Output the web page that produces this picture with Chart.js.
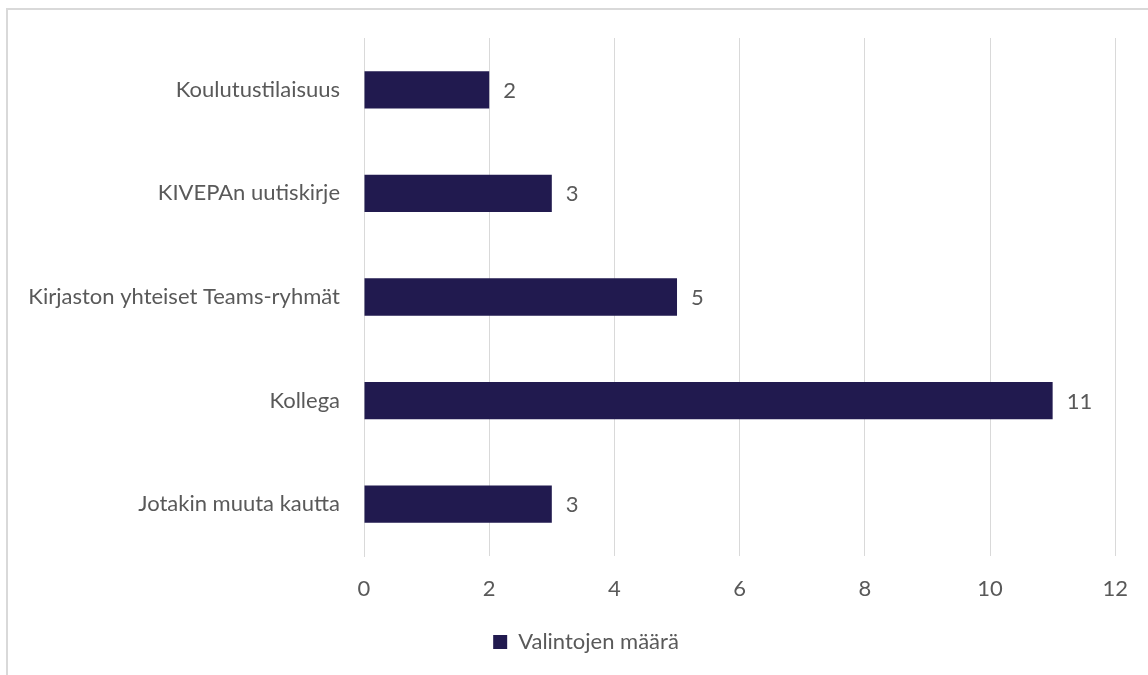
<!DOCTYPE html>
<html>
<head>
<meta charset="utf-8">
<script src="https://cdn.jsdelivr.net/npm/chart.js@4.4.1/dist/chart.umd.min.js"></script>
<style>
  html, body { margin: 0; padding: 0; background: #fff; overflow: hidden; }
  #frame { position: absolute; left: 6px; top: 8px; width: 1300px; height: 800px;
           border-left: 2px solid #d9d9d9; border-top: 2px solid #d9d9d9; box-sizing: border-box; }
  #wrap { position: absolute; left: 0; top: 0; width: 1148px; height: 675px; }
</style>
</head>
<body>
<div id="frame"></div>
<div id="wrap"><canvas id="chart" width="1148" height="675"></canvas></div>
<script>
const categories = [
  'Koulutustilaisuus',
  'KIVEPAn uutiskirje',
  'Kirjaston yhteiset Teams-ryhmät',
  'Kollega',
  'Jotakin muuta kautta'
];
const counts = [2, 3, 5, 11, 3];
const seriesName = 'Valintojen määrä';
const xTicks = [0, 2, 4, 6, 8, 10, 12];

const FONT = 'Lato, "Open Sans", sans-serif';
const FONT_SIZE = 22;
const TEXT = '#595959';
const GRID = '#d9d9d9';
const BAR = '#211a4f';

// value labels just past the end of each bar
const valueLabels = {
  id: 'valueLabels',
  afterDatasetsDraw(chart) {
    const ctx = chart.ctx;
    const meta = chart.getDatasetMeta(0);
    ctx.save();
    ctx.font = FONT_SIZE + 'px ' + FONT;
    ctx.fillStyle = TEXT;
    ctx.textBaseline = 'middle';
    ctx.textAlign = 'left';
    meta.data.forEach((bar, i) => {
      ctx.fillText(String(chart.data.datasets[0].data[i]), bar.x + 14, bar.y + 1);
    });
    ctx.restore();
  }
};

// let the long category names use the space left of the axis box
const wideCategoryLabels = {
  id: 'wideCategoryLabels',
  afterLayout(chart) {
    chart.scales.y.left = 0;
  }
};

new Chart(document.getElementById('chart'), {
  type: 'bar',
  data: {
    labels: categories,
    datasets: [{
      label: seriesName,
      data: counts,
      backgroundColor: BAR,
      borderWidth: 0,
      categoryPercentage: 1,
      barPercentage: 0.36
    }]
  },
  options: {
    indexAxis: 'y',
    responsive: false,
    animation: false,
    layout: { padding: { left: 56, right: 32, top: 38, bottom: 12 } },
    plugins: {
      legend: {
        position: 'bottom',
        labels: {
          boxWidth: 14, boxHeight: 14, padding: 15,
          color: TEXT, font: { family: FONT, size: FONT_SIZE }
        }
      },
      tooltip: { enabled: false }
    },
    scales: {
      x: {
        min: 0, max: 12,
        afterBuildTicks(scale) { scale.ticks = xTicks.map(v => ({ value: v })); },
        afterFit(scale) { scale.height = 60; },
        grid: { color: GRID, lineWidth: 1, drawTicks: false },
        border: { display: false },
        ticks: { color: TEXT, font: { family: FONT, size: FONT_SIZE }, padding: 20 }
      },
      y: {
        afterFit(scale) { scale.width = 308; },
        grid: { display: false, drawTicks: false },
        border: { display: true, color: GRID, width: 1 },
        ticks: { color: TEXT, font: { family: FONT, size: FONT_SIZE }, padding: 24 }
      }
    }
  },
  plugins: [valueLabels, wideCategoryLabels]
});
</script>
</body>
</html>
